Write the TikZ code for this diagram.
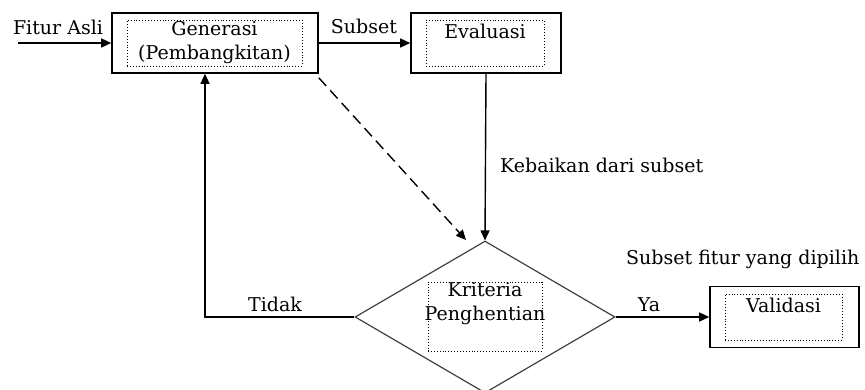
\documentclass[tikz,border=0pt]{standalone}
\usepackage{fontspec}
\setmainfont{DejaVu Serif}
\usetikzlibrary{arrows.meta,shapes.geometric}
\begin{document}
\begin{tikzpicture}[x=1pt,y=-1pt,
  lbl/.style={font=\fontsize{19}{24}\selectfont, inner sep=0pt, align=center},
  outerbox/.style={draw, line width=1.6pt, minimum width=#1, minimum height=60pt, inner sep=0pt},
  dotbox/.style={draw, dotted, line width=0.9pt, inner sep=0pt},
  arr/.style={-{Triangle[length=10pt,width=9pt]}, line width=1.4pt}]
\useasboundingbox (0,0) rectangle (865,389);
% boxes
\node[outerbox=206pt] (gen) at (215,43) {};
\node[dotbox, minimum width=175pt, minimum height=46pt] (geni) at (214.5,43) {};
\node[lbl] (gent) at (214.5,43) {Generasi\\(Pembangkitan)};
\node[outerbox=150pt] (eva) at (486,43) {};
\node[dotbox, minimum width=118pt, minimum height=46pt] (evai) at (485,43) {};
\node[lbl] (evat) at (485,31) {Evaluasi};
\node[draw, line width=1.2pt, draw=black!75, diamond, aspect=1.75, minimum width=260pt, minimum height=152pt, inner sep=0pt] (kri) at (485,317) {};
\node[dotbox, minimum width=114pt, minimum height=69pt] (krii) at (485,316.5) {};
\node[lbl] (krit) at (485,304) {Kriteria\\Penghentian};
\node[outerbox=149pt, minimum height=61pt] (val) at (784.5,317) {};
\node[dotbox, minimum width=117pt, minimum height=46pt] (vali) at (783.5,317) {};
\node[lbl] (valt) at (783.5,305) {Validasi};
% coordinates
\coordinate (start) at (18,43);
\coordinate (corner) at (205,317);
\coordinate (dashend) at (466,240);
% connectors
\draw[arr] (start) -- (gen.west);
\draw[arr] (gen.east) -- (eva.west);
\draw[arr] (eva.south) -- (kri.north);
\draw[arr] (kri.east) -- (val.west);
\draw[arr] (kri.west) -- (corner) -- (gen.south west -| corner);
\draw[arr, dash pattern=on 11pt off 6pt] (gen.south east) ++(0,4) -- (dashend);
% labels
\node[lbl] (l1) at (58,27) {Fitur Asli};
\node[lbl] (l2) at (364,26) {Subset};
\node[lbl, anchor=west] (l3) at (500,165) {Kebaikan dari subset};
\node[lbl, anchor=west] (l4) at (626,259) {Subset fitur yang dipilih};
\node[lbl] (l5) at (649,305) {Ya};
\node[lbl] (l6) at (275,304) {Tidak};
\end{tikzpicture}
\end{document}
